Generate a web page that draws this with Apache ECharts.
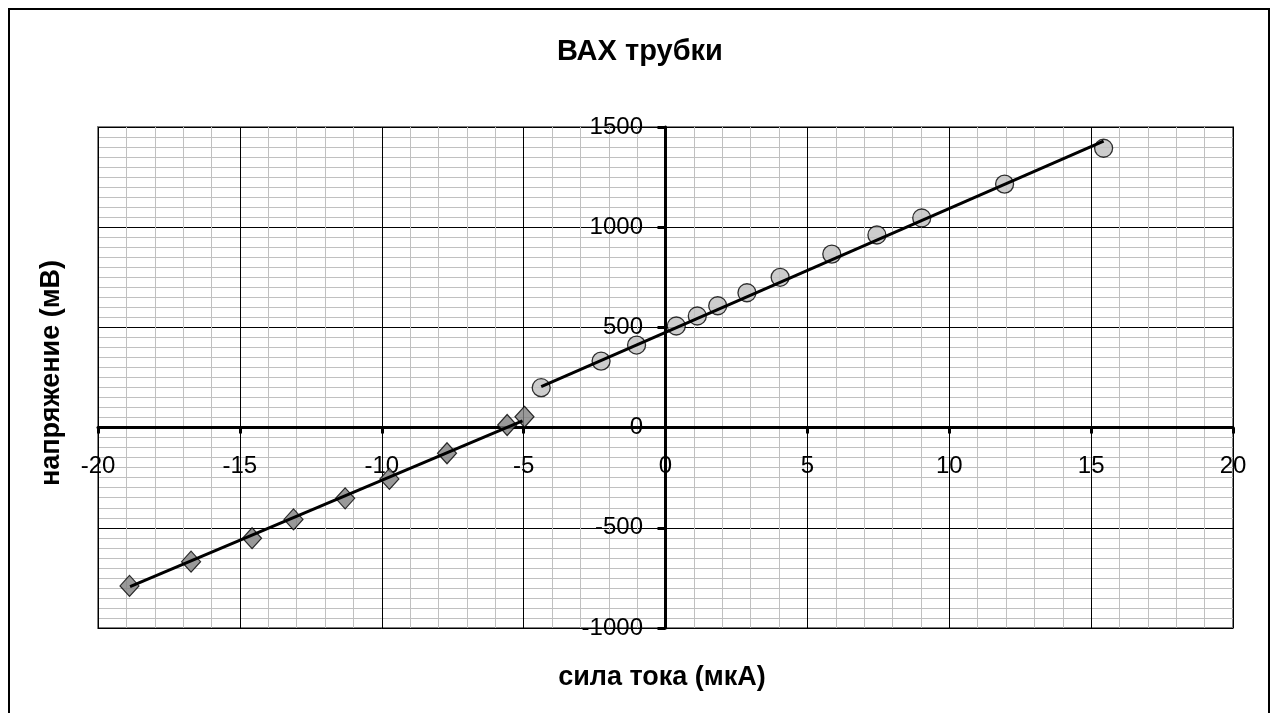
<!DOCTYPE html>
<html>
<head>
<meta charset="utf-8">
<title>ВАХ трубки</title>
<script src="https://cdn.jsdelivr.net/npm/echarts@6/dist/echarts.min.js"></script>
<style>
  html, body { margin: 0; padding: 0; background: #fff; }
  #chart { width: 1273px; height: 713px; }
</style>
</head>
<body>
<div id="chart"></div>
<script>
  // обратная ветка (ромбы)
  var tokA = [-18.89, -16.72, -14.57, -13.11, -11.29, -9.73, -7.70, -5.58, -4.97]
  var napA = [-790, -669, -552, -458, -353, -256, -128, 13, 54]
  // прямая ветка (кружки)
  var tokB = [-4.38, -2.27, -1.02, 0.38, 1.12, 1.84, 2.87, 4.04, 5.86, 7.45, 9.03, 11.95, 15.44]
  var napB = [199, 332, 412, 507, 557, 608, 673, 750, 866, 961, 1046, 1215, 1394]
  // линии тренда (концы)
  var trendA = [[-18.87, -794], [-5.04, 34]]
  var trendB = [[-4.38, 205], [15.44, 1430]]

  function pairs(xs, ys) {
    var out = []
    for (var i = 0; i < xs.length; i++) {
      out.push([xs[i], ys[i]])
    }
    return out
  }

  var font = 'Arial, "Liberation Sans", sans-serif'
  var myChart = echarts.init(document.getElementById('chart'))

  // подписи осей пересекаются в нуле: метки сдвигаем к осевым линиям
  var option = {
    backgroundColor: '#fff',
    animation: false,
    graphic: [{
      type: 'rect',
      shape: { x: 9, y: 9, width: 1260, height: 740 },
      style: { fill: null, stroke: '#000', lineWidth: 2 },
      silent: true
    }, {
      type: 'text',
      x: 640,
      y: 52,
      style: { text: 'ВАХ трубки', font: 'bold 29px ' + font, fill: '#000', align: 'center', verticalAlign: 'middle' },
      silent: true
    }, {
      type: 'text',
      x: 662,
      y: 678,
      style: { text: 'сила тока (мкА)', font: 'bold 27px ' + font, fill: '#000', align: 'center', verticalAlign: 'middle' },
      silent: true
    }, {
      type: 'text',
      x: 52,
      y: 373,
      rotation: Math.PI / 2,
      style: { text: 'напряжение (мВ)', font: 'bold 27px ' + font, fill: '#000', align: 'center', verticalAlign: 'middle' },
      silent: true
    }],
    grid: {
      left: 98,
      right: 40,
      top: 127,
      bottom: 85,
      containLabel: false,
      outerBoundsMode: 'none',
      show: true,
      borderColor: '#808080',
      borderWidth: 2
    },
    xAxis: {
      type: 'value',
      min: -20,
      max: 20,
      interval: 5,
      axisLine: { onZero: true, lineStyle: { color: '#000', width: 3 } },
      axisTick: { show: true, length: 6, lineStyle: { color: '#000', width: 3 } },
      axisLabel: { fontFamily: font, fontSize: 24, color: '#000', margin: -174, formatter: function (v) { return String(v) } },
      splitLine: { show: true, lineStyle: { color: '#000', width: 1 } },
      minorTick: { show: false, splitNumber: 5 },
      minorSplitLine: { show: true, lineStyle: { color: '#c0c0c0', width: 1 } }
    },
    yAxis: {
      type: 'value',
      min: -1000,
      max: 1500,
      interval: 500,
      axisLine: { onZero: true, lineStyle: { color: '#000', width: 3 } },
      axisTick: { show: true, length: 8, lineStyle: { color: '#000', width: 3 } },
      axisLabel: { fontFamily: font, fontSize: 24, color: '#000', margin: -545, formatter: function (v) { return String(v) } },
      splitLine: { show: true, lineStyle: { color: '#000', width: 1 } },
      minorTick: { show: false, splitNumber: 10 },
      minorSplitLine: { show: true, lineStyle: { color: '#c0c0c0', width: 1 } }
    },
    series: [
      {
        name: 'обратная',
        type: 'scatter',
        symbol: 'diamond',
        symbolSize: [19, 21],
        itemStyle: { color: '#808080', borderColor: '#000', borderWidth: 1.2 },
        data: pairs(tokA, napA),
        z: 3
      },
      {
        name: 'прямая',
        type: 'scatter',
        symbol: 'circle',
        symbolSize: 18,
        itemStyle: { color: '#c0c0c0', borderColor: '#000', borderWidth: 1.3 },
        data: pairs(tokB, napB),
        z: 3
      },
      {
        name: 'тренд A',
        type: 'line',
        showSymbol: false,
        lineStyle: { color: '#000', width: 3 },
        data: trendA,
        z: 4
      },
      {
        name: 'тренд B',
        type: 'line',
        showSymbol: false,
        lineStyle: { color: '#000', width: 3 },
        data: trendB,
        z: 4
      }
    ]
  }
  myChart.setOption(option)
</script>
</body>
</html>
